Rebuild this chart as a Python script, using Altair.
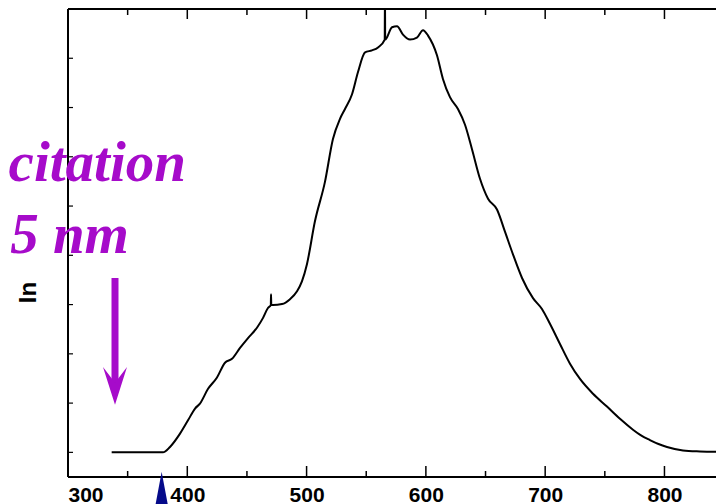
import altair as alt
import pandas as pd

# Emission spectrum (wavelength in nm, intensity in arbitrary units)
wavelength = [336.6, 379.6, 385.5, 393.9, 400.6, 406.5, 410.6, 417.4, 424.9, 431.6,
              437.5, 444.2, 450.9, 458.4, 463.5, 467.6, 470.0, 470.2, 470.4, 471.8,
              479.4, 486.1, 492.0, 496.1, 500.3, 507.0, 515.4, 522.1, 528.0, 532.2,
              538.1, 543.1, 549.0, 554.8, 559.9, 565.5, 565.7, 565.9, 571.6, 575.8,
              580.8, 586.7, 592.5, 597.6, 601.8, 609.3, 614.3, 620.2, 626.9, 632.8,
              638.6, 645.3, 652.1, 659.6, 666.3, 673.0, 680.6, 689.8, 697.3, 704.0,
              712.4, 720.8, 729.2, 740.1, 751.8, 762.7, 773.6, 780.0, 787.8, 795.0,
              802.1, 815.5, 829.8, 849.9]
intensity = [0.00, 0.00, 0.11, 0.38, 0.65, 0.89, 0.99, 1.29, 1.52, 1.82,
             1.90, 2.12, 2.32, 2.53, 2.73, 2.93, 2.99, 3.21, 2.99, 2.99,
             3.01, 3.11, 3.27, 3.47, 3.82, 4.69, 5.49, 6.36, 6.77, 6.97,
             7.27, 7.72, 8.12, 8.16, 8.22, 8.38, 9.30, 8.38, 8.63, 8.65,
             8.48, 8.38, 8.42, 8.57, 8.46, 8.06, 7.58, 7.21, 6.97, 6.65,
             6.16, 5.56, 5.15, 4.93, 4.48, 4.02, 3.54, 3.13, 2.91, 2.61,
             2.20, 1.80, 1.49, 1.19, 0.93, 0.68, 0.46, 0.35, 0.25, 0.17,
             0.11, 0.04, 0.02, 0.01]

x_major = [300, 400, 500, 600, 700, 800]
x_minor = [350, 450, 550, 650, 750]
y_ticks = [0, 1, 2, 3, 4, 5, 6, 7, 8]

note_lines = ["citation", "5 nm"]
note_x = [398.9, 351.1]
note_y = [5.51, 4.05]

arrow_x = [339.4]
arrow_top = [3.54]
arrow_bottom = [1.37]
arrow_head_y = [1.35]

marker_x = [378.5]
marker_y = [-0.80]

PURPLE = "#a60bca"
NAVY = "#050a8a"
W, H = 648, 468

xs = alt.Scale(domain=[300, 843.2], nice=False, zero=False)
ys = alt.Scale(domain=[-0.5, 9], nice=False, zero=False)

x_axis = alt.Axis(values=x_major, title=None, domain=False, ticks=False, grid=False,
                  labelFont="Liberation Sans", labelFontWeight="bold", labelFontSize=21,
                  labelColor="black", labelPadding=7)
y_axis = alt.Axis(title="In", labels=False, ticks=False, domain=False, grid=False,
                  titleFont="Liberation Sans", titleFontWeight="bold", titleFontSize=24,
                  titleColor="black", titleAngle=270, titleX=-40, titleY=283,
                  titleAlign="center", titleBaseline="middle")

spec = pd.DataFrame({"wl": wavelength, "I": intensity})

line = alt.Chart(spec).mark_line(color="black", strokeWidth=2, clip=True,
                                 interpolate="monotone").encode(
    x=alt.X("wl:Q", scale=xs, axis=x_axis),
    y=alt.Y("I:Q", scale=ys, axis=y_axis),
)

maj = pd.DataFrame({"t": x_major})
mino = pd.DataFrame({"t": x_minor})
yt = pd.DataFrame({"v": y_ticks})

frame_left = alt.Chart(maj.head(1)).mark_rule(color="black", strokeWidth=2).encode(
    x=alt.value(0), y=alt.value(0), y2=alt.value(H))
frame_top = alt.Chart(maj.head(1)).mark_rule(color="black", strokeWidth=2).encode(
    x=alt.value(0), x2=alt.value(W), y=alt.value(0))
frame_bottom = alt.Chart(maj.head(1)).mark_rule(color="black", strokeWidth=2).encode(
    x=alt.value(0), x2=alt.value(W), y=alt.value(H))

bottom_major = alt.Chart(maj).mark_rule(color="black", strokeWidth=1.5).encode(
    x=alt.X("t:Q", scale=xs, axis=x_axis), y=alt.value(H), y2=alt.value(H - 11))
bottom_minor = alt.Chart(mino).mark_rule(color="black", strokeWidth=1.5).encode(
    x=alt.X("t:Q", scale=xs, axis=x_axis), y=alt.value(H), y2=alt.value(H - 6))
top_major = alt.Chart(maj).mark_rule(color="black", strokeWidth=1.5).encode(
    x=alt.X("t:Q", scale=xs, axis=x_axis), y=alt.value(0), y2=alt.value(10))
top_minor = alt.Chart(mino).mark_rule(color="black", strokeWidth=1.5).encode(
    x=alt.X("t:Q", scale=xs, axis=x_axis), y=alt.value(0), y2=alt.value(6))
left_ticks = alt.Chart(yt).mark_rule(color="black", strokeWidth=1.2).encode(
    y=alt.Y("v:Q", scale=ys, axis=y_axis), x=alt.value(0), x2=alt.value(5))

notes = alt.Chart(pd.DataFrame({"x": note_x, "y": note_y, "t": note_lines})).mark_text(
    align="right", baseline="alphabetic", font="Liberation Serif", fontStyle="italic",
    fontWeight="bold", fontSize=57, color=PURPLE).encode(
    x=alt.X("x:Q", scale=xs, axis=x_axis), y=alt.Y("y:Q", scale=ys, axis=y_axis),
    text="t:N")

arrow_df = pd.DataFrame({"x": arrow_x, "y1": arrow_top, "y2": arrow_bottom,
                         "yh": arrow_head_y})
shaft = alt.Chart(arrow_df).mark_rule(color=PURPLE, strokeWidth=7, strokeCap="butt").encode(
    x=alt.X("x:Q", scale=xs, axis=x_axis), y=alt.Y("y1:Q", scale=ys, axis=y_axis), y2="y2:Q")
head = alt.Chart(arrow_df).mark_point(
    shape="M0,1.58L-1,-1.58L0,-0.25L1,-1.58Z", size=576, filled=True, opacity=1,
    color=PURPLE, strokeWidth=0).encode(
    x=alt.X("x:Q", scale=xs, axis=x_axis), y=alt.Y("yh:Q", scale=ys, axis=y_axis))

marker = alt.Chart(pd.DataFrame({"x": marker_x, "y": marker_y})).mark_point(
    shape="M0,-1L0.375,1L-0.375,1Z", size=1600, filled=True, opacity=1,
    color=NAVY, strokeWidth=0).encode(
    x=alt.X("x:Q", scale=xs, axis=x_axis), y=alt.Y("y:Q", scale=ys, axis=y_axis))

chart = alt.layer(line, frame_left, frame_top, frame_bottom, bottom_major, bottom_minor,
                  top_major, top_minor, left_ticks, notes, shaft, head, marker).properties(
    width=W, height=H,
    autosize=alt.AutoSizeParams(type="none"),
    padding={"left": 60, "top": 1, "right": 0, "bottom": 27},
    background="white",
).configure_view(stroke=None)

chart.save("out.html", embed_options={"renderer": "svg", "actions": False})
